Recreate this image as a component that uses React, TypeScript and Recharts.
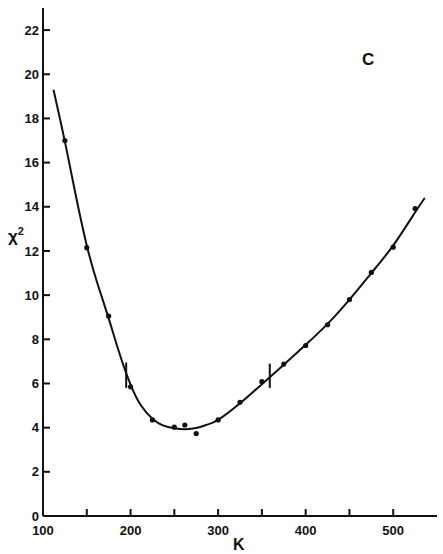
import { ComposedChart, Line, Scatter, XAxis, YAxis, ReferenceLine } from 'recharts';

// measured points (K, chi^2)
const pointK = [125, 150, 175, 200, 225, 250, 262, 275, 300, 325, 350, 375, 400, 425, 450, 475, 500, 525];
const pointChi = [17.0, 12.15, 9.05, 5.85, 4.35, 4.02, 4.12, 3.73, 4.35, 5.15, 6.08, 6.88, 7.72, 8.66, 9.8, 11.03, 12.17, 13.92];

// fitted curve
const curveK = [112, 125, 137, 150, 162, 175, 187, 200, 212, 225, 237, 250, 262, 275, 287, 300, 325, 350, 375, 400, 425, 450, 475, 500, 525, 536];
const curveChi = [19.3, 16.95, 14.6, 12.25, 10.55, 8.95, 7.4, 5.95, 5.0, 4.4, 4.1, 3.97, 3.93, 3.98, 4.13, 4.35, 5.1, 5.97, 6.85, 7.75, 8.7, 9.8, 11.0, 12.25, 13.75, 14.4];

// the two short vertical bars on the curve
const markK = [195, 359];
const markLow = [5.8, 5.8];
const markHigh = [6.95, 6.9];

const xTicks = [100, 150, 200, 250, 300, 350, 400, 450, 500];
const yTicks = [0, 2, 4, 6, 8, 10, 12, 14, 16, 18, 20, 22];

const points = pointK.map((k, i) => ({ k, chi: pointChi[i] }));
const curve = curveK.map((k, i) => ({ k, chi: curveChi[i] }));

const ink = '#111';
const font = '"Liberation Sans Narrow", "Liberation Sans", Arial, sans-serif';
const tickStyle = { fill: ink, fontSize: 13, fontWeight: 700, fontFamily: font };

const Dot = (props: any) => <circle cx={props.cx} cy={props.cy} r={2.6} fill={ink} />;

export default function App() {
  return (
    <div style={{ position: 'relative', width: 443, height: 554, background: '#fff', fontFamily: font }}>
      <style>{'body{margin:0}'}</style>
      <ComposedChart width={443} height={554} margin={{ top: 8, right: 6, left: 0, bottom: 0 }}>
        <XAxis
          dataKey="k"
          type="number"
          domain={[100, 550]}
          ticks={xTicks}
          allowDataOverflow
          height={38}
          tickSize={-7}
          tickMargin={17}
          tick={tickStyle}
          tickFormatter={(v: number) => (v % 100 === 0 ? String(v) : '')}
          axisLine={{ stroke: ink, strokeWidth: 2 }}
          tickLine={{ stroke: ink, strokeWidth: 2 }}
        />
        <XAxis
          xAxisId="top"
          orientation="top"
          type="number"
          domain={[100, 550]}
          ticks={xTicks.slice(1)}
          allowDataOverflow
          height={0}
          tickSize={7}
          tick={false}
          axisLine={{ stroke: ink, strokeWidth: 2 }}
          tickLine={{ stroke: ink, strokeWidth: 2 }}
        />
        <YAxis
          type="number"
          domain={[0, 23]}
          ticks={yTicks}
          allowDataOverflow
          width={43}
          tickSize={-7}
          tickMargin={11}
          tick={tickStyle}
          axisLine={{ stroke: ink, strokeWidth: 2 }}
          tickLine={{ stroke: ink, strokeWidth: 2 }}
        />
        <YAxis
          yAxisId="right"
          orientation="right"
          type="number"
          domain={[0, 23]}
          ticks={yTicks.slice(1)}
          allowDataOverflow
          width={0}
          tickSize={7}
          tick={false}
          axisLine={{ stroke: ink, strokeWidth: 2 }}
          tickLine={{ stroke: ink, strokeWidth: 2 }}
        />
        <Line
          data={curve}
          dataKey="chi"
          type="natural"
          stroke={ink}
          strokeWidth={2}
          dot={false}
          isAnimationActive={false}
        />
        <Scatter data={points} dataKey="chi" shape={Dot} isAnimationActive={false} />
        {markK.map((k, i) => (
          <ReferenceLine
            key={k}
            segment={[{ x: k, y: markLow[i] }, { x: k, y: markHigh[i] }]}
            stroke={ink}
            strokeWidth={2}
          />
        ))}
      </ComposedChart>
      <div style={{ position: 'absolute', left: 362, top: 50, fontSize: 17, fontWeight: 700, color: ink }}>C</div>
      <div style={{ position: 'absolute', left: 8, top: 225, fontSize: 17, fontWeight: 700, color: ink }}>
        χ<sup style={{ fontSize: 11 }}>2</sup>
      </div>
      <div style={{ position: 'absolute', left: 233, top: 536, fontSize: 16, fontWeight: 700, color: ink }}>K</div>
    </div>
  );
}
